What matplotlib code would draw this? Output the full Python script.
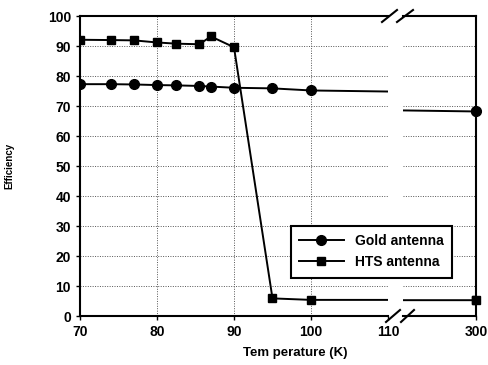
import matplotlib.pyplot as plt
from matplotlib.lines import Line2D

plt.rcParams['font.family'] = ['Liberation Sans', 'DejaVu Sans']
plt.rcParams['font.weight'] = 'bold'

# data
temp = [70, 74, 77, 80, 82.5, 85.5, 87, 90, 95, 100, 300]
gold = [77.3, 77.3, 77.2, 77.0, 76.9, 76.7, 76.5, 76.1, 75.9, 75.2, 68.2]
hts = [92.1, 92.0, 91.9, 91.2, 90.8, 90.6, 93.2, 89.6, 5.9, 5.4, 5.3]
left_ticks = [70, 80, 90, 100, 110]
right_ticks = [300]
y_ticks = list(range(0, 101, 10))

fig = plt.figure(figsize=(4.88, 3.65), dpi=100)
ax1 = fig.add_axes([0.164, 0.134, 0.631, 0.822])
ax2 = fig.add_axes([0.826, 0.134, 0.150, 0.822])

for ax in (ax1, ax2):
    ax.plot(temp, gold, color='black', lw=1.4, marker='o', ms=7)
    ax.plot(temp, hts, color='black', lw=1.4, marker='s', ms=6)
    ax.set_ylim(0, 100)
    ax.set_yticks(y_ticks)
    ax.yaxis.grid(True, ls=(0, (1, 1.5)), color='#555555', lw=0.7)
    ax.tick_params(labelsize=10, width=1, length=3)
    for s in ax.spines.values():
        s.set_linewidth(1.5)

ax1.set_xlim(70, 110)
ax1.set_xticks(left_ticks)
ax1.xaxis.grid(True, ls=(0, (1, 1.5)), color='#555555', lw=0.7)
ax1.spines['right'].set_visible(False)

ax2.set_xlim(290, 300)
ax2.set_xticks(right_ticks)
ax2.spines['left'].set_visible(False)
ax2.tick_params(axis='y', left=False, labelleft=False)
# markers at the right edge are drawn over the spine
ax2.plot(temp[-1], gold[-1], color='black', marker='o', ms=7, clip_on=False, zorder=5)
ax2.plot(temp[-1], hts[-1], color='black', marker='s', ms=6, clip_on=False, zorder=5)

ax1.set_xlabel('Tem perature (K)', fontsize=9.5, fontweight='bold', x=0.7, labelpad=6)
ax1.set_ylabel('Efficiency', fontsize=7, fontweight='bold', labelpad=24)

# break marks
for x0, y0, x1, y1 in [(382, 22, 397, 10), (397, 22, 413, 10),
                       (386, 322, 400, 310), (401, 322, 414, 310)]:
    fig.add_artist(Line2D([x0 / 488, x1 / 488], [1 - y0 / 365, 1 - y1 / 365],
                          color='black', lw=1.5, transform=fig.transFigure))

handles = [Line2D([], [], color='black', lw=1.4, marker='o', ms=7),
           Line2D([], [], color='black', lw=1.4, marker='s', ms=6)]
leg = fig.legend(handles, ['Gold antenna', 'HTS antenna'], loc='upper left',
                 bbox_to_anchor=(0.596, 0.381), borderaxespad=0, fontsize=10,
                 handlelength=3.2, fancybox=False, framealpha=1,
                 edgecolor='black', borderpad=0.6, labelspacing=0.5)
leg.get_frame().set_linewidth(1.5)

fig.savefig('out.png', dpi=100)
